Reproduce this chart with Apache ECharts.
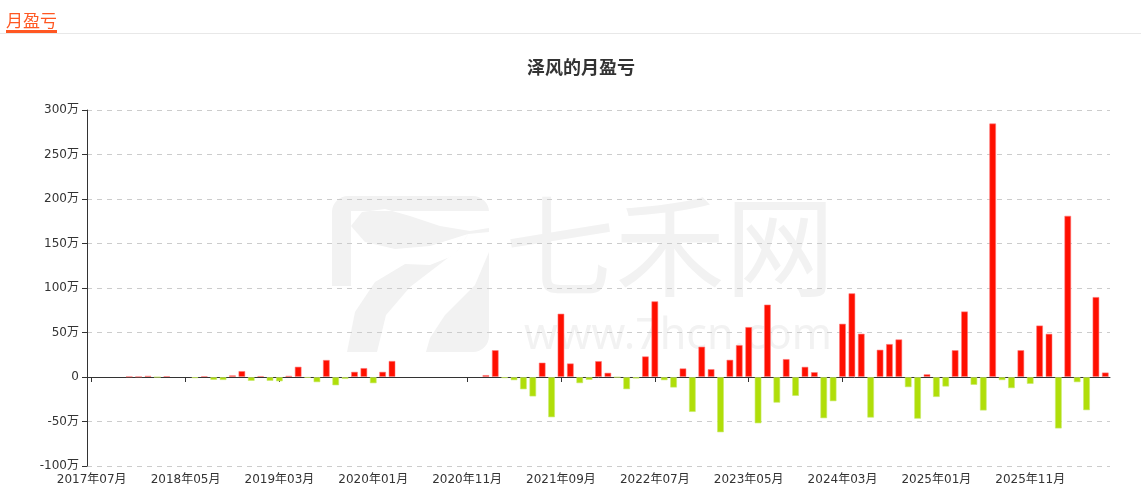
<!DOCTYPE html>
<html>
<head>
<meta charset="utf-8">
<script src="https://cdn.jsdelivr.net/npm/echarts@6/dist/echarts.min.js"></script>
<style>
html,body{margin:0;padding:0;background:#fff;width:1141px;height:499px;overflow:hidden;}
#hdr{position:absolute;left:0;top:0;width:1141px;height:33px;border-bottom:1px solid #e8e8e8;}
#hdr span{position:absolute;left:6px;top:9px;font-family:"Noto Sans CJK SC",sans-serif;font-size:17px;line-height:21px;color:#ff5722;border-bottom:3px solid #ff5722;}
#chart{position:absolute;left:0;top:0;width:1141px;height:499px;}
</style>
</head>
<body>
<div id="chart"></div>
<div id="hdr"><span>月盈亏</span></div>
<script>
// Month categories 2017-07 .. 2026-07
const startYear = 2017, startMonth = 7, monthCount = 109;
const categories = [];
for (let k = 0; k < monthCount; k++) {
  const m = startMonth - 1 + k;
  const y = startYear + Math.floor(m / 12);
  const mm = (m % 12) + 1;
  categories.push(y + '年' + (mm < 10 ? '0' + mm : mm) + '月');
}
// Monthly profit/loss in 万
const monthlyPnl = [
  null, null, null, null, 0.6, 0.5, 1.5, -0.3, 1, null,
  null, -1.5, 1, -3.4, -3.5, 2, 6.8, -4.5, 1.2, -4.5,
  -5, 1.5, 11.7, -1, -6, 19.3, -9.5, -2.3, 6, 10.2,
  -7.2, 6, 18.2, null, null, null, null, null, null, null,
  null, null, 2.3, 30.3, -1.5, -3.8, -14, -22, 16.3, -45.4,
  71.3, 15.4, -7.1, -3.4, 18, 4.9, -0.5, -13.9, -1.9, 23.3,
  85.2, -3.8, -12, 9.8, -39.4, 34.2, 9, -62.3, 19.5, 36,
  56.3, -52.2, 81.5, -29, 20.3, -21.4, 11.6, 5.6, -46.5, -27.4,
  60, 94.2, 48.8, -45.8, 30.8, 37.2, 42.4, -11.6, -47, 3.2,
  -22.6, -10.9, 30.3, 73.8, -9, -37.8, 285, -3.7, -12.7, 30.3,
  -7.9, 58, 48.7, -58, 181.3, -6, -37.5, 90, 5.2
];
const yTicks = [-100, -50, 0, 50, 100, 150, 200, 250, 300];

const labelFont = '"DejaVu Sans", "Noto Sans CJK SC", sans-serif';
const chart = echarts.init(document.getElementById('chart'));
const barData = monthlyPnl.map(v => {
  if (v === null) return '-';
  const pos = v >= 0;
  return {
    value: v,
    itemStyle: {
      color: pos ? '#FF0F00' : '#B0DE09',
      borderColor: pos ? 'rgba(255,120,120,0.55)' : 'rgba(200,235,110,0.6)',
      borderWidth: 1
    }
  };
});
chart.setOption({
  animation: false,
  title: {
    text: '泽风的月盈亏',
    left: 522,
    top: 53,
    textStyle: {fontSize: 18, fontWeight: 'bold', color: '#333', fontFamily: 'Noto Sans CJK SC'}
  },
  graphic: [
    {type: 'rect', z: -10, silent: true, shape: {x: 332, y: 196, width: 157, height: 156, r: 16}, style: {fill: '#f2f2f2'}},
    {type: 'polygon', z: -9, silent: true, shape: {points: [[351,211],[489,211],[489,228],[470,231],[440,226],[410,216],[385,209],[362,212],[351,226]]}, style: {fill: '#fff'}},
    {type: 'polygon', z: -9, silent: true, shape: {points: [[351,226],[365,242],[395,249],[430,246],[468,234],[455,255],[430,265],[405,264],[375,282],[355,312],[347,352],[332,352],[332,286],[351,286]]}, style: {fill: '#fff'}},
    {type: 'polygon', z: -9, silent: true, shape: {points: [[468,234],[489,232],[489,252],[475,285],[445,315],[430,338],[426,352],[377,352],[386,315],[410,287],[440,264],[458,250]]}, style: {fill: '#fff'}},
    {type: 'text', z: -9, silent: true, left: 505, top: 191, style: {text: '七禾网', fontSize: 110, fontFamily: 'Noto Sans CJK SC', fill: '#f2f2f2'}},
    {type: 'text', z: -9, silent: true, left: 524, top: 315, style: {text: 'www.7hcn.com', fontSize: 43, fontFamily: 'Noto Sans', fill: '#f2f2f2'}}
  ],
  grid: {left: 87, right: 31, top: 110, bottom: 33, containLabel: false},
  xAxis: [
    {
      type: 'category', data: categories, position: 'bottom',
      axisLine: {onZero: true, lineStyle: {color: '#333', width: 1}},
      axisTick: {show: true, interval: 9, alignWithLabel: true, length: 5, lineStyle: {color: '#333'}},
      axisLabel: {show: false},
      splitLine: {show: false}
    },
    {
      type: 'category', data: categories, position: 'bottom',
      axisLine: {show: false, onZero: false},
      axisTick: {show: false},
      axisLabel: {interval: 9, margin: 8, fontSize: 12, color: '#333', fontFamily: labelFont},
      splitLine: {show: false}
    }
  ],
  yAxis: {
    type: 'value', min: yTicks[0], max: yTicks[yTicks.length - 1], interval: 50,
    axisLine: {show: true, lineStyle: {color: '#333'}},
    axisTick: {show: true, length: 5, lineStyle: {color: '#333'}},
    axisLabel: {fontSize: 12, color: '#333', fontFamily: labelFont, formatter: v => v === 0 ? '0' : v + '万'},
    splitLine: {show: true, lineStyle: {type: [5, 5], color: '#ccc'}}
  },
  series: [{
    type: 'bar', xAxisIndex: 0, data: barData, barWidth: 7
  }]
});
</script>
</body>
</html>
